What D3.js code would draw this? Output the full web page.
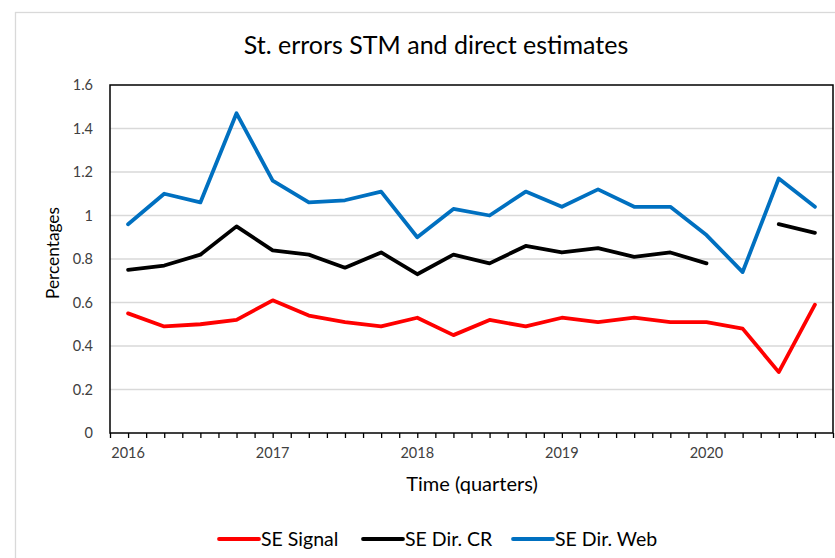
<!DOCTYPE html>
<html>
<head>
<meta charset="utf-8">
<script src="https://cdn.jsdelivr.net/npm/d3@7"></script>
<style>
	html, body { margin: 0; padding: 0; background: #fff; }
	svg { display: block; font-family: Lato, "Open Sans", sans-serif; }
</style>
</head>
<body>
<div id="root"></div>
<script>
// quarters 2016 Q1 .. 2020 Q4
const quarters = ["2016 Q1","2016 Q2","2016 Q3","2016 Q4","2017 Q1","2017 Q2","2017 Q3","2017 Q4",
	"2018 Q1","2018 Q2","2018 Q3","2018 Q4","2019 Q1","2019 Q2","2019 Q3","2019 Q4",
	"2020 Q1","2020 Q2","2020 Q3","2020 Q4"]
const yearLabels = ["2016","2017","2018","2019","2020"]
const yTicks = [0, 0.2, 0.4, 0.6, 0.8, 1, 1.2, 1.4, 1.6]

const seSignal = [0.55,0.49,0.50,0.52,0.61,0.54,0.51,0.49,0.53,0.45,0.52,0.49,0.53,0.51,0.53,0.51,0.51,0.48,0.28,0.59]
const seDirCR = [0.75,0.77,0.82,0.95,0.84,0.82,0.76,0.83,0.73,0.82,0.78,0.86,0.83,0.85,0.81,0.83,0.78,null,0.96,0.92]
const seDirWeb = [0.96,1.10,1.06,1.47,1.16,1.06,1.07,1.11,0.90,1.03,1.00,1.11,1.04,1.12,1.04,1.04,0.91,0.74,1.17,1.04]

const series = [
	{ name: "SE Signal", values: seSignal, color: "#FF0000" },
	{ name: "SE Dir. CR", values: seDirCR, color: "#000000" },
	{ name: "SE Dir. Web", values: seDirWeb, color: "#0070C0" },
]

const width = 835, height = 558
const plot = { left: 110, right: 833, top: 85, bottom: 433 }

const svg = d3.select("#root").append("svg")
	.attr("width", width)
	.attr("height", height)

// chart frame (cut off on the right and bottom)
svg.append("rect")
	.attr("x", 15.5).attr("y", 12.5)
	.attr("width", 900).attr("height", 700)
	.attr("fill", "#fff")
	.attr("stroke", "#d9d9d9")
	.attr("stroke-width", 1.3)

const x = d3.scaleLinear()
	.domain([-0.5, quarters.length - 0.5])
	.range([plot.left, plot.right])

const y = d3.scaleLinear()
	.domain([0, 1.6])
	.range([plot.bottom, plot.top])

// gridlines
svg.append("g")
	.selectAll("line")
	.data(yTicks.filter(d => d > 0 && d < 1.6))
	.enter().append("line")
	.attr("x1", plot.left).attr("x2", plot.right)
	.attr("y1", d => y(d)).attr("y2", d => y(d))
	.attr("stroke", "#d9d9d9")
	.attr("stroke-width", 1.5)

// y axis labels
svg.append("g")
	.selectAll("text")
	.data(yTicks)
	.enter().append("text")
	.attr("x", 93)
	.attr("y", d => y(d) + 5)
	.attr("text-anchor", "end")
	.style("font-size", "14.5px")
	.style("fill", "#404040")
	.text(d => d)

// x axis with a tick every half quarter
const halfTicks = d3.range(-0.5, quarters.length, 0.5)
const xAxis = d3.axisBottom(x)
	.tickValues(halfTicks)
	.tickSize(5)
	.tickFormat("")

const gx = svg.append("g")
	.attr("transform", `translate(0,${plot.bottom})`)
	.call(xAxis)
gx.select(".domain").remove()
gx.selectAll(".tick line")
	.attr("stroke", "#000")
	.attr("stroke-width", 1.3)

svg.append("g")
	.selectAll("text")
	.data(yearLabels)
	.enter().append("text")
	.attr("x", (d, i) => x(quarters.indexOf(d + " Q1")))
	.attr("y", 458)
	.attr("text-anchor", "middle")
	.style("font-size", "14.5px")
	.style("fill", "#404040")
	.text(d => d)

// plot area border
svg.append("rect")
	.attr("x", plot.left)
	.attr("y", plot.top)
	.attr("width", plot.right - plot.left)
	.attr("height", plot.bottom - plot.top)
	.attr("fill", "none")
	.attr("stroke", "#000")
	.attr("stroke-width", 1.5)

// the lines
const line = d3.line()
	.defined(d => d != null)
	.x((d, i) => x(i))
	.y(d => y(d))

svg.append("g")
	.selectAll("path")
	.data(series)
	.enter().append("path")
	.attr("d", d => line(d.values))
	.attr("fill", "none")
	.attr("stroke", d => d.color)
	.attr("stroke-width", 3.8)
	.attr("stroke-linejoin", "round")
	.attr("stroke-linecap", "round")

// titles
svg.append("text")
	.attr("x", 436)
	.attr("y", 54)
	.attr("text-anchor", "middle")
	.style("font-size", "25px")
	.style("fill", "#000")
	.text("St. errors STM and direct estimates")

svg.append("text")
	.attr("transform", "translate(59,253) rotate(-90)")
	.attr("text-anchor", "middle")
	.style("font-size", "17.3px")
	.style("fill", "#000")
	.text("Percentages")

svg.append("text")
	.attr("x", 472)
	.attr("y", 491)
	.attr("text-anchor", "middle")
	.style("font-size", "20px")
	.style("fill", "#000")
	.text("Time (quarters)")

// legend
const legendX = [219, 363, 513]
const legend = svg.append("g")
	.selectAll("g")
	.data(series)
	.enter().append("g")
	.attr("transform", (d, i) => `translate(${legendX[i]},539)`)

legend.append("line")
	.attr("x1", 0).attr("x2", 40)
	.attr("stroke", d => d.color)
	.attr("stroke-width", 3.8)
	.attr("stroke-linecap", "round")

legend.append("text")
	.attr("x", 42)
	.attr("y", 7)
	.style("font-size", "19.5px")
	.style("fill", "#000")
	.text(d => d.name)
</script>
</body>
</html>
